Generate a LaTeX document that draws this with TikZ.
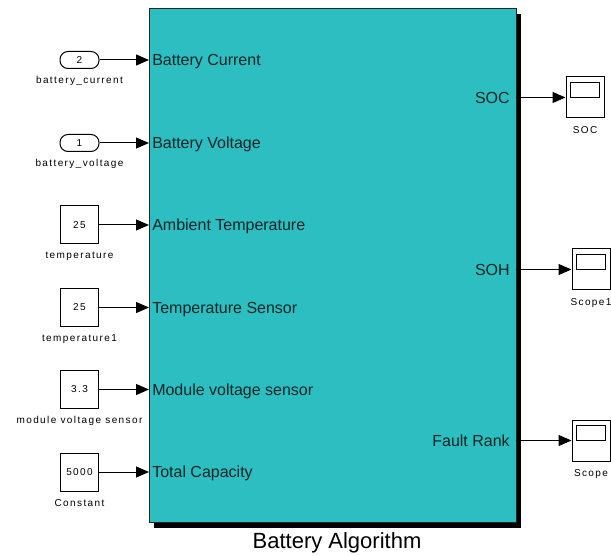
\documentclass[tikz,border=0pt]{standalone}
\usepackage{fontspec}
\setmainfont{Liberation Sans}
\newfontfamily\blkfont[LetterSpace=14]{Liberation Sans}
\usetikzlibrary{positioning,arrows.meta}
\definecolor{algoteal}{RGB}{44,190,192}
\definecolor{porttext}{RGB}{8,36,38}
\tikzset{
  small/.style={font=\blkfont\fontsize{7.5}{9}\selectfont},
  constbox/.style={draw, line width=0.75pt, small, minimum width=28.5pt, minimum height=28.5pt, inner sep=0pt},
  inport/.style={draw, line width=0.75pt, small, rounded corners=6pt, minimum width=29.25pt, minimum height=12.75pt, inner sep=0pt},
  scopebox/.style={draw, line width=0.75pt, minimum width=28.5pt, minimum height=30.75pt, inner sep=0pt},
  blklabel/.style={small, inner sep=0pt},
  pin/.style={inner sep=2.25pt, text=porttext, font=\fontsize{12}{14}\selectfont, text height=8.6pt, text depth=0pt, anchor=west},
  pout/.style={inner xsep=4.5pt, text=porttext, font=\fontsize{12}{14}\selectfont, text height=8.6pt, text depth=0pt, anchor=east},
  sig/.style={line width=0.75pt, -{Triangle[length=9.75pt,width=8.25pt]}},
}

\begin{document}
\begin{tikzpicture}[x=0.75pt,y=-0.75pt]
  \useasboundingbox (0,0) rectangle (611,556);
  % algorithm block with its shadow
  \fill (154,14) rectangle (521,528);
  \node[draw=black!85, line width=0.75pt, fill=algoteal, minimum width=275.25pt, minimum height=384.75pt] (algo) at (332.5,265.5) {};
  \node[font=\fontsize{16.5}{19}\selectfont] (title) at (337,543) {Battery Algorithm};

  % ports of the block
  \node[pin] (pCur) at (149,60) {Battery Current};
  \node[pin] (pVolt) at (149,143) {Battery Voltage};
  \node[pin] (pAmb) at (149,225) {Ambient Temperature};
  \node[pin] (pSens) at (149,307.5) {Temperature Sensor};
  \node[pin] (pMod) at (149,389.5) {Module voltage sensor};
  \node[pin] (pCap) at (149,472) {Total Capacity};
  \node[pout] (pSOC) at (516,97.5) {SOC};
  \node[pout] (pSOH) at (516,269.5) {SOH};
  \node[pout] (pFlt) at (516,440.5) {Fault Rank};

  % sources
  \node[inport] (iCur) at (79.5,60) {2};
  \node[blklabel, below=5.5pt of iCur] (lCur) {battery\_current};
  \node[inport] (iVolt) at (79.5,143) {1};
  \node[blklabel, below=5.5pt of iVolt] (lVolt) {battery\_voltage};
  \node[constbox] (cAmb) at (79.5,225) {25};
  \node[blklabel, below=5.5pt of cAmb] (lAmb) {temperature};
  \node[constbox] (cSens) at (79.5,307.5) {25};
  \node[blklabel, below=5.5pt of cSens] (lSens) {temperature1};
  \node[constbox] (cMod) at (79.5,389.5) {3.3};
  \node[blklabel, below=5.5pt of cMod] (lMod) {module voltage sensor};
  \node[constbox] (cCap) at (79.5,472) {5000};
  \node[blklabel, below=5.5pt of cCap] (lCap) {Constant};

  % sinks
  \node[scopebox] (sSOC) at (585,97.5) {};
  \node[blklabel, below=5.5pt of sSOC] (lSOC) {SOC};
  \node[scopebox] (sSOH) at (591,269.5) {};
  \node[blklabel, below=5.5pt of sSOH] (lSOH) {Scope1};
  \node[scopebox] (sFlt) at (591,440.5) {};
  \node[blklabel, below=5.5pt of sFlt] (lFlt) {Scope};
  \foreach \s in {sSOC,sSOH,sFlt}
    \draw[line width=0.75pt] ([shift={(5,6)}]\s.north west) rectangle ([shift={(-5,21)}]\s.north east);

  \draw[sig] (iCur.east) -- (pCur.west);
  \draw[sig] (iVolt.east) -- (pVolt.west);
  \draw[sig] (cAmb.east) -- (pAmb.west);
  \draw[sig] (cSens.east) -- (pSens.west);
  \draw[sig] (cMod.east) -- (pMod.west);
  \draw[sig] (cCap.east) -- (pCap.west);
  \draw[sig] (pSOC.east) -- (sSOC.west);
  \draw[sig] (pSOH.east) -- (sSOH.west);
  \draw[sig] (pFlt.east) -- (sFlt.west);
\end{tikzpicture}
\end{document}
